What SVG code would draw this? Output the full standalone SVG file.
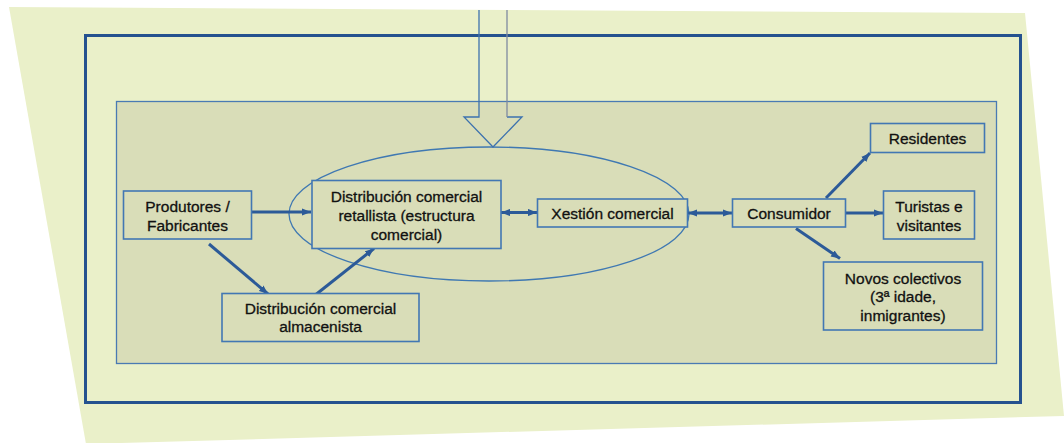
<svg xmlns="http://www.w3.org/2000/svg" width="1064" height="443" viewBox="0 0 1064 443">
  <defs>
    <style>
      .bg { fill: #EAF0C9; }
      .frame { fill: none; stroke: #25528F; stroke-width: 3; }
      .panel { fill: #D9DDB8; stroke: #4A7AB3; stroke-width: 1.3; }
      .box { fill: #D9DDB8; stroke: #4277B3; stroke-width: 1.6; }
      .ring { fill: none; stroke: #3F78B2; stroke-width: 1.3; }
      .hollow { fill: none; stroke: #3D72AE; stroke-width: 1.3; }
      .link { fill: none; stroke: #2C5A98; stroke-width: 3; }
      .one { marker-end: url(#head); }
      .two { marker-start: url(#head); marker-end: url(#head); }
      text { font-family: "Liberation Sans", Arial, sans-serif; font-size: 15.5px; fill: #111; stroke: #111; stroke-width: 0.3; text-anchor: middle; }
    </style>
    <marker id="head" viewBox="0 0 10 8" refX="10" refY="4" markerWidth="9" markerHeight="7.5" markerUnits="userSpaceOnUse" orient="auto-start-reverse">
      <path d="M0,0 L10,4 L0,8 z" fill="#2C5A98"/>
    </marker>
  </defs>

  <!-- paper sheet and frames -->
  <polygon class="bg" points="9,7 1025,13 1064,416 86,444"/>
  <rect class="frame" x="85.5" y="35.5" width="935" height="367"/>
  <rect class="panel" x="116.5" y="101.5" width="880" height="262"/>

  <!-- ellipse around the retail core -->
  <ellipse class="ring" cx="489" cy="214" rx="200" ry="67"/>

  <!-- hollow input arrow from above -->
  <g id="input-arrow">
    <polyline class="hollow" points="479,10 479,117 464,117 493,147 522,117 507,117"/>
    <line x1="507" y1="10" x2="507" y2="117" stroke="#7F8AA0" stroke-width="1.3"/>
  </g>

  <g id="connectors">
    <line class="link one" x1="252" y1="212" x2="311" y2="212"/>
    <line class="link one" x1="209" y1="244" x2="268" y2="294"/>
    <line class="link one" x1="314" y1="296" x2="374" y2="248.5"/>
    <line class="link two" x1="501" y1="212.5" x2="537" y2="212.5"/>
    <line class="link two" x1="688" y1="213" x2="732" y2="213"/>
    <line class="link one" x1="826" y1="198" x2="870" y2="153"/>
    <line class="link one" x1="846" y1="213" x2="883" y2="213"/>
    <line class="link one" x1="796" y1="228.5" x2="840" y2="258.5"/>
  </g>

  <g id="produtores">
    <rect class="box" x="123.5" y="191" width="128" height="48"/>
    <text x="187.5" y="212">Produtores /</text>
    <text x="187.5" y="231">Fabricantes</text>
  </g>

  <g id="retallista">
    <rect class="box" x="312" y="180.5" width="189" height="68"/>
    <text x="406.5" y="202">Distribución comercial</text>
    <text x="406.5" y="221">retallista (estructura</text>
    <text x="406.5" y="240">comercial)</text>
  </g>

  <g id="almacenista">
    <rect class="box" x="222" y="293.5" width="197" height="48"/>
    <text x="320.5" y="313.5">Distribución comercial</text>
    <text x="320.5" y="332">almacenista</text>
  </g>

  <g id="xestion">
    <rect class="box" x="537.5" y="199" width="150" height="28"/>
    <text x="612.5" y="218.5">Xestión comercial</text>
  </g>

  <g id="consumidor">
    <rect class="box" x="732.5" y="199" width="113" height="28"/>
    <text x="789" y="219">Consumidor</text>
  </g>

  <g id="residentes">
    <rect class="box" x="870.5" y="123.5" width="114" height="29"/>
    <text x="927.5" y="143.5">Residentes</text>
  </g>

  <g id="turistas">
    <rect class="box" x="883.5" y="191" width="91" height="48"/>
    <text x="929" y="212">Turistas e</text>
    <text x="929" y="231">visitantes</text>
  </g>

  <g id="novos">
    <rect class="box" x="823.5" y="262" width="159" height="68"/>
    <text x="903" y="283.5">Novos colectivos</text>
    <text x="903" y="302">(3ª idade,</text>
    <text x="903" y="321">inmigrantes)</text>
  </g>
</svg>
